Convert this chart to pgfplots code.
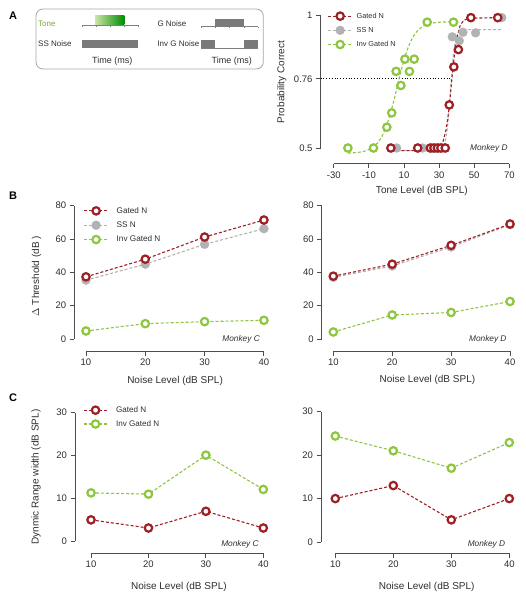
\documentclass[border=0pt]{standalone}
\usepackage{fontspec}
\setmainfont{Liberation Sans}
\usepackage{pgfplots}
\pgfplotsset{compat=1.18}
\definecolor{gnred}{HTML}{9E1F24}
\definecolor{ssgrey}{HTML}{B2B2B4}
\definecolor{invgreen}{HTML}{8DC63F}
\definecolor{axgrey}{HTML}{4D4D4D}
\definecolor{txt}{HTML}{2E2E2E}
\definecolor{noisegrey}{HTML}{7A7A7A}
\pgfplotsset{
  myaxis/.style={
    scale only axis, clip=false, anchor=south west,
    axis x line*=bottom, axis y line*=left,
    axis line style={draw=none},
    tick align=outside, major tick length=4.5pt,
    tick style={axgrey, line width=0.9pt},
    ticklabel style={font=\fontsize{9.5}{10}\selectfont, text=txt},
    /pgf/number format/assume math mode=true,
    label style={font=\fontsize{10}{12}\selectfont, text=txt},
    xlabel style={anchor=center},
    ylabel style={anchor=center},
    legend style={draw=none, fill=none, anchor=north west, inner sep=0pt,
      cells={anchor=west}, text=txt},
    legend image code/.code={\draw[mark repeat=2,mark phase=2,##1] plot coordinates {(0pt,0pt) (12pt,0pt) (24pt,0pt)};},
  },
  gatedN/.style={color=gnred, line width=1.1pt, dash pattern=on 3pt off 2pt, mark=*, mark size=3.7pt,
     mark options={solid, draw=gnred, fill=white, line width=2.2pt}},
  ssN/.style={color=ssgrey, line width=1.1pt, dash pattern=on 3pt off 2pt, mark=*, mark size=4.5pt,
     mark options={solid, draw=ssgrey, fill=ssgrey, line width=0.2pt}},
  invN/.style={color=invgreen, line width=1.1pt, dash pattern=on 3pt off 2pt, mark=*, mark size=3.7pt,
     mark options={solid, draw=invgreen, fill=white, line width=2.2pt}},
}
\begin{document}
\begin{tikzpicture}
\useasboundingbox (0,0) rectangle (525pt,-601pt);

% ---------- schematic inset and panel letters ----------
\begin{scope}[x=1pt,y=-1pt]
\node[font=\bfseries\fontsize{11}{12}\selectfont, anchor=center] at (13,16) {A};
\node[font=\bfseries\fontsize{11}{12}\selectfont, anchor=center] at (13,196) {B};
\node[font=\bfseries\fontsize{11}{12}\selectfont, anchor=center] at (13,398) {C};
\draw[gray!70, line width=0.8pt, rounded corners=7pt] (36,9) rectangle (263.3,69);
\node[font=\fontsize{8}{9}\selectfont, text=invgreen!85!black, anchor=west, inner sep=0pt] at (38,23.3) {Tone};
\node[font=\fontsize{8}{9}\selectfont, text=txt, anchor=west, inner sep=0pt] at (38,43.7) {SS Noise};
\node[font=\fontsize{8}{9}\selectfont, text=txt, anchor=west, inner sep=0pt] at (157.3,24) {G Noise};
\node[font=\fontsize{8}{9}\selectfont, text=txt, anchor=west, inner sep=0pt] at (157.3,44) {Inv G Noise};
\node[font=\fontsize{9}{10}\selectfont, text=txt, inner sep=0pt] at (112.3,60.7) {Time (ms)};
\node[font=\fontsize{9}{10}\selectfont, text=txt, inner sep=0pt] at (231.7,60.7) {Time (ms)};
% tone
\shade[left color=invgreen!45!white, right color=green!55!black] (95,16) rectangle (124.3,25);
\draw[gray, line width=0.5pt] (81.7,25) -- (138.3,25);
\foreach \t in {81.7,95.8,110,124.2,138.3} \draw[gray, line width=0.4pt] (\t,25) -- (\t,27);
% SS noise
\fill[noisegrey] (81.7,40) rectangle (138.3,47.7);
% G noise
\draw[gray, line width=0.5pt] (201,26.7) -- (258.3,26.7);
\foreach \t in {201,215.3,229.5,243.7,258.3} \draw[gray, line width=0.4pt] (\t,26.7) -- (\t,28.5);
\fill[noisegrey] (215.3,19) rectangle (243.7,26.7);
% Inv G noise
\draw[gray, line width=0.5pt] (201,48.3) -- (258.3,48.3);
\fill[noisegrey] (201,40) rectangle (215,48.3);
\fill[noisegrey] (244,40) rectangle (258.3,48.3);
\end{scope}

% ---------- Panel A : psychometric functions ----------
\begin{axis}[myaxis, at={(320.5pt,-163.7pt)}, width=192.3pt, height=148.7pt,
  xmin=-37.6, xmax=72, ymin=0.441, ymax=1,
  xtick={-30,-10,10,30,50,70}, xticklabels={-30,-10,10,30,50,70},
  ytick={0.5,0.76,1}, yticklabels={0.5,0.76,1},
  xlabel={Tone Level (dB SPL)}, ylabel={Probability Correct},
  xlabel style={at={(axis description cs:0.527,-0.182)}},
  ylabel style={at={(axis description cs:-0.201,0.55)}},
  legend style={at={(axis description cs:0.036,1.03)}, font=\fontsize{7.3}{8}\selectfont, row sep=3.5pt}]
\draw[axgrey, line width=0.9pt] (axis cs:-37.6,0.5) -- (axis cs:-37.6,1);
\draw[axgrey, line width=0.9pt] (axis cs:-30,0.441) -- (axis cs:70,0.441);
% threshold line
\addplot[black, line width=0.8pt, dotted, forget plot] coordinates {(-37.6,0.76) (37.3,0.76)};
% fitted curves
\addplot[invN, no markers, smooth, forget plot] coordinates {
 (-22,0.481) (-20,0.4815) (-15,0.4846) (-10,0.4938) (-5,0.5196) (-2,0.5515) (0,0.583) (2,0.6243)
 (4,0.6734) (6,0.7275) (8,0.7816) (10,0.8308) (12,0.8718) (14,0.9034) (16,0.9266) (18,0.9428)
 (20,0.954) (24,0.9661) (28,0.9713) (32,0.9735) (38,0.9745)};
\addplot[ssN, no markers, forget plot] coordinates {
 (5,0.49) (30,0.492) (33,0.513) (34,0.540) (35,0.591) (36,0.671) (37,0.764) (38,0.844)
 (39,0.895) (40,0.922) (42,0.940) (45,0.945) (65.7,0.945)};
\addplot[gatedN, no markers, forget plot] coordinates {
 (3,0.49) (20,0.49) (30,0.50) (32,0.519) (34,0.5695) (35,0.614) (36,0.672) (37,0.74) (38,0.808)
 (39,0.866) (40,0.91) (42,0.961) (44,0.98) (47,0.988) (63.4,0.99)};
% data points
\addplot[ssN, only marks, forget plot] coordinates {
 (5.8,0.5) (20.6,0.5) (26,0.5) (28,0.5) (30,0.5) (32,0.5) (35.8,0.662) (37.5,0.918)
 (41.5,0.903) (43.6,0.935) (50.8,0.933) (65.7,0.99)};
\addplot[gatedN, only marks, forget plot] coordinates {
 (2.5,0.5) (17.8,0.5) (25,0.5) (27,0.5) (29,0.5) (31,0.5) (33.5,0.5) (35.8,0.662)
 (38.4,0.805) (41,0.87) (48.1,0.99) (63.4,0.99)};
\addplot[invN, only marks, forget plot] coordinates {
 (-22,0.5) (-7.4,0.5) (0.2,0.578) (3,0.632) (8.2,0.735) (5.5,0.788) (13.1,0.788)
 (10.5,0.834) (15.8,0.834) (23.2,0.973) (38.2,0.973)};
\addlegendimage{gatedN}\addlegendentry{\hspace{2pt}Gated N}
\addlegendimage{ssN}\addlegendentry{\hspace{2pt}SS N}
\addlegendimage{invN}\addlegendentry{\hspace{2pt}Inv Gated N}
\node[anchor=east, font=\itshape\fontsize{8.3}{9}\selectfont, text=txt] at (axis cs:71,0.5) {Monkey D};
\end{axis}

% ---------- Panel B left ----------
\begin{axis}[myaxis, at={(74.3pt,-351.3pt)}, width=201.5pt, height=145.6pt,
  xmin=8.03, xmax=42, ymin=-7.4, ymax=80,
  xtick={10,20,30,40}, ytick={0,20,40,60,80},
  xlabel={Noise Level (dB SPL)}, ylabel={$\Delta$ Threshold (dB )},
  xlabel style={at={(axis description cs:0.5,-0.2)}},
  ylabel style={at={(axis description cs:-0.187,0.516)}},
  legend style={at={(axis description cs:0.045,1.005)}, font=\fontsize{8.2}{9}\selectfont, row sep=3pt}]
\draw[axgrey, line width=0.9pt] (axis cs:8.03,0) -- (axis cs:8.03,80);
\draw[axgrey, line width=0.9pt] (axis cs:10,-7.4) -- (axis cs:40,-7.4);
\addplot[ssN, forget plot] coordinates {(10,35.3) (20,44.9) (30,56.8) (40,66.2)};
\addplot[gatedN] coordinates {(10,37.3) (20,47.9) (30,61.2) (40,71.4)};
\addlegendentry{\hspace{6pt}Gated N}
\addlegendimage{ssN}\addlegendentry{\hspace{6pt}SS N}
\addplot[invN] coordinates {(10,4.8) (20,9.2) (30,10.4) (40,11.2)};
\addlegendentry{\hspace{6pt}Inv Gated N}
\node[anchor=east, font=\itshape\fontsize{8.3}{9}\selectfont, text=txt] at (axis cs:39.9,0) {Monkey C};
\end{axis}

% ---------- Panel B right ----------
\begin{axis}[myaxis, at={(321.7pt,-351.3pt)}, width=200.1pt, height=145.6pt,
  xmin=8.03, xmax=42, ymin=-7.4, ymax=80,
  xtick={10,20,30,40}, ytick={0,20,40,60,80},
  xlabel={Noise Level (dB SPL)},
  xlabel style={at={(axis description cs:0.528,-0.195)}}]
\draw[axgrey, line width=0.9pt] (axis cs:8.03,0) -- (axis cs:8.03,80);
\draw[axgrey, line width=0.9pt] (axis cs:10,-7.4) -- (axis cs:40,-7.4);
\addplot[ssN] coordinates {(10,37.0) (20,43.8) (30,55.2) (40,68.6)};
\addplot[gatedN] coordinates {(10,37.7) (20,44.9) (30,56.2) (40,69.0)};
\addplot[invN] coordinates {(10,4.2) (20,14.4) (30,15.9) (40,22.5)};
\node[anchor=east, font=\itshape\fontsize{8.3}{9}\selectfont, text=txt] at (axis cs:40,0) {Monkey D};
\end{axis}

% ---------- Panel C left ----------
\begin{axis}[myaxis, at={(75pt,-553.3pt)}, width=199.8pt, height=140.6pt,
  xmin=7.21, xmax=42, ymin=-2.8, ymax=30,
  xtick={10,20,30,40}, ytick={0,10,20,30},
  xlabel={Noise Level (dB SPL)}, ylabel={Dynmic Range width (dB SPL)},
  xlabel style={at={(axis description cs:0.52,-0.2375)}},
  ylabel style={at={(axis description cs:-0.195,0.543)}},
  legend style={at={(axis description cs:0.039,1.06)}, font=\fontsize{8.1}{9}\selectfont, row sep=2.5pt}]
\draw[axgrey, line width=0.9pt] (axis cs:7.21,0) -- (axis cs:7.21,30);
\draw[axgrey, line width=0.9pt] (axis cs:10,-2.8) -- (axis cs:40,-2.8);
\addplot[gatedN] coordinates {(10,5.0) (20,3.1) (30,7.0) (40,3.1)};
\addlegendentry{\hspace{6pt}Gated N}
\addplot[invN] coordinates {(10,11.3) (20,11.0) (30,20.1) (40,12.1)};
\addlegendentry{\hspace{6pt}Inv Gated N}
\node[anchor=east, font=\itshape\fontsize{8.3}{9}\selectfont, text=txt] at (axis cs:39.8,-0.7) {Monkey C};
\end{axis}

% ---------- Panel C right ----------
\begin{axis}[myaxis, at={(321pt,-553.3pt)}, width=199.9pt, height=141.6pt,
  xmin=7.53, xmax=42, ymin=-2.6, ymax=30,
  xtick={10,20,30,40}, ytick={0,10,20,30},
  xlabel={Noise Level (dB SPL)},
  xlabel style={at={(axis description cs:0.529,-0.236)}}]
\draw[axgrey, line width=0.9pt] (axis cs:7.53,0) -- (axis cs:7.53,30);
\draw[axgrey, line width=0.9pt] (axis cs:10,-2.6) -- (axis cs:40,-2.6);
\addplot[gatedN] coordinates {(10,10.0) (20,13.0) (30,5.1) (40,10.0)};
\addplot[invN] coordinates {(10,24.4) (20,21.0) (30,17.0) (40,22.9)};
\node[anchor=east, font=\itshape\fontsize{8.3}{9}\selectfont, text=txt] at (axis cs:39.9,-0.5) {Monkey D};
\end{axis}
\end{tikzpicture}
\end{document}
